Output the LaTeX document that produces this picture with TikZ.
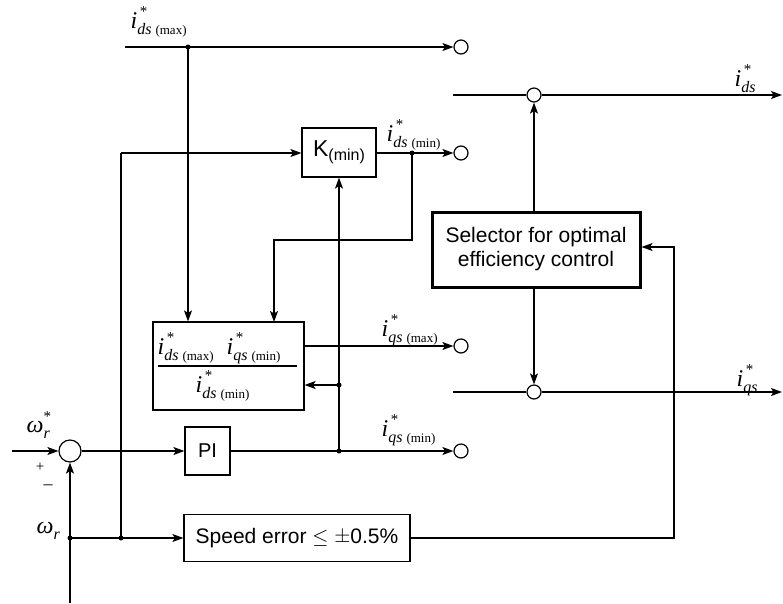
\documentclass[tikz,border=0pt]{standalone}
\usepackage{fontspec}
\setmainfont{Liberation Serif}
\setsansfont{Liberation Sans}
\usetikzlibrary{arrows.meta}
\newcommand{\isub}[2]{\textit{i}\makebox[0pt][l]{\raisebox{0.5em}{\fontsize{15}{15}\selectfont\,*}}\raisebox{-0.28em}{\fontsize{16}{16}\selectfont\textit{#1}\ \fontsize{13}{13}\selectfont(#2)}}
\newcommand{\isubb}[1]{\textit{i}\makebox[0pt][l]{\raisebox{0.5em}{\fontsize{15}{15}\selectfont\,*}}\raisebox{-0.28em}{\fontsize{16}{16}\selectfont\textit{#1}}}
\begin{document}
\begin{tikzpicture}[x=1pt,y=-1pt,line width=1.3pt,
  >={Stealth[length=11pt,width=8pt,inset=2.5pt]},
  blk/.style={draw,rectangle,inner sep=0pt,line width=1.2pt,font=\sffamily\fontsize{21}{24}\selectfont},
  port/.style={draw,circle,minimum size=14pt,inner sep=0pt,line width=1.2pt},
  jdot/.style={fill,circle,minimum size=5pt,inner sep=0pt},
  lbl/.style={inner sep=0pt,anchor=base west,font=\fontsize{24}{24}\selectfont}]
\useasboundingbox (0,0) rectangle (783,603);
% blocks
\node[blk,minimum width=74pt,minimum height=49pt] (K) at (339,152.5) {\fontsize{23}{23}\selectfont K\raisebox{-0.18em}{\fontsize{16}{16}\selectfont(min)}};
\node[blk,minimum width=151pt,minimum height=88pt] (frac) at (228.5,366) {};
\node[blk,minimum width=45pt,minimum height=48pt] (PI) at (207.5,451) {\fontsize{20}{20}\selectfont PI};
\node[blk,minimum width=226pt,minimum height=47pt] (spd) at (297,538) {Speed error $\leq$ \raisebox{0.05em}{$\pm$}0.5\%};
\node[blk,line width=3pt,minimum width=208pt,minimum height=75pt,align=center] (sel) at (536,249.5) {Selector for optimal\\efficiency control};
\node[draw,circle,minimum size=22pt,inner sep=0pt,line width=1.2pt] (sum) at (70,451) {};
% output ports
\node[port] (o1) at (461,47) {};
\node[port] (o2) at (461,153) {};
\node[port] (o3) at (461,346) {};
\node[port] (o4) at (461,451) {};
\node[port] (c1) at (534,95) {};
\node[port] (c2) at (534,392) {};
% coordinates
\coordinate (tin) at (125,47);
\coordinate (j1) at (188,47);
\coordinate (lv) at (121,153);
\coordinate (j2) at (412,153);
\coordinate (j3) at (339,451);
\coordinate (j4) at (339,385);
\coordinate (j5) at (70,538);
\coordinate (j6) at (121,538);
\coordinate (win) at (12,451);
\coordinate (wbot) at (70,603);
\coordinate (fb) at (674,538);
\coordinate (dl) at (453,95);
\coordinate (dr) at (782,95);
\coordinate (ql) at (453,392);
\coordinate (qr) at (782,392);
% fraction content
\node[lbl] (n1) at (157,354) {\isub{ds}{max}};
\node[lbl] (n2) at (226,354) {\isub{qs}{min}};
\draw[line width=1.2pt] (158,366) -- (297,366);
\node[lbl] (n3) at (195,392) {\isub{ds}{min}};
% connectors
\draw[->] (tin) -- (o1);
\draw[->] (j1) -- (j1 |- frac.north);
\draw[->] (lv) -- (K.west |- lv);
\draw (lv) -- (j6);
\draw[->] (K.east |- o2) -- (o2);
\draw[->] (j2) -- (412,240) -- (274,240) -- (274,322);
\draw[->] (j3) -- (K.south -| j3);
\draw[->] (j4) -- (frac.east |- j4);
\draw[->] (frac.east |- o3) -- (o3);
\draw[->] (win) -- (sum);
\draw[->] (sum) -- (PI);
\draw[->] (PI) -- (o4);
\draw[->] (wbot) -- (sum);
\draw[->] (j5) -- (spd.west |- j5);
\draw[->] (spd.east |- fb) -- (fb) -- (fb |- 247,247) -- (sel.east |- 247,247);
\draw (dl) -- (c1);
\draw[->] (c1) -- (dr);
\draw[->] (c1 |- sel.north) -- (c1);
\draw (ql) -- (c2);
\draw[->] (c2) -- (qr);
\draw[->] (c2 |- sel.south) -- (c2);
% junction dots
\foreach \p in {j1,j2,j3,j4,j5,j6} \node[jdot] at (\p) {};
% labels
\node[lbl] (l1) at (130,28) {\isub{ds}{max}};
\node[lbl] (l2) at (386,141) {\isub{ds}{min}};
\node[lbl] (l3) at (381,336) {\isub{qs}{max}};
\node[lbl] (l4) at (381,436) {\isub{qs}{min}};
\node[lbl] (l5) at (734,86) {\isubb{ds}};
\node[lbl] (l6) at (736,386) {\isubb{qs}};
\node[lbl,font=\fontsize{24}{24}\selectfont] (w1) at (26,432) {\textit{ω}\makebox[0pt][l]{\raisebox{0.45em}{\fontsize{15}{15}\selectfont *}}\raisebox{-0.28em}{\fontsize{16}{16}\selectfont\textit{r}}};
\node[lbl,font=\fontsize{24}{24}\selectfont] (w2) at (36,533) {\textit{ω}\raisebox{-0.28em}{\fontsize{16}{16}\selectfont\textit{r}}};
\node[font=\fontsize{15}{15}\selectfont,inner sep=0pt] (plus) at (40,467) {+};
\node[font=\fontsize{18}{18}\selectfont,inner sep=0pt] (minus) at (48,487) {–};
\end{tikzpicture}
\end{document}
